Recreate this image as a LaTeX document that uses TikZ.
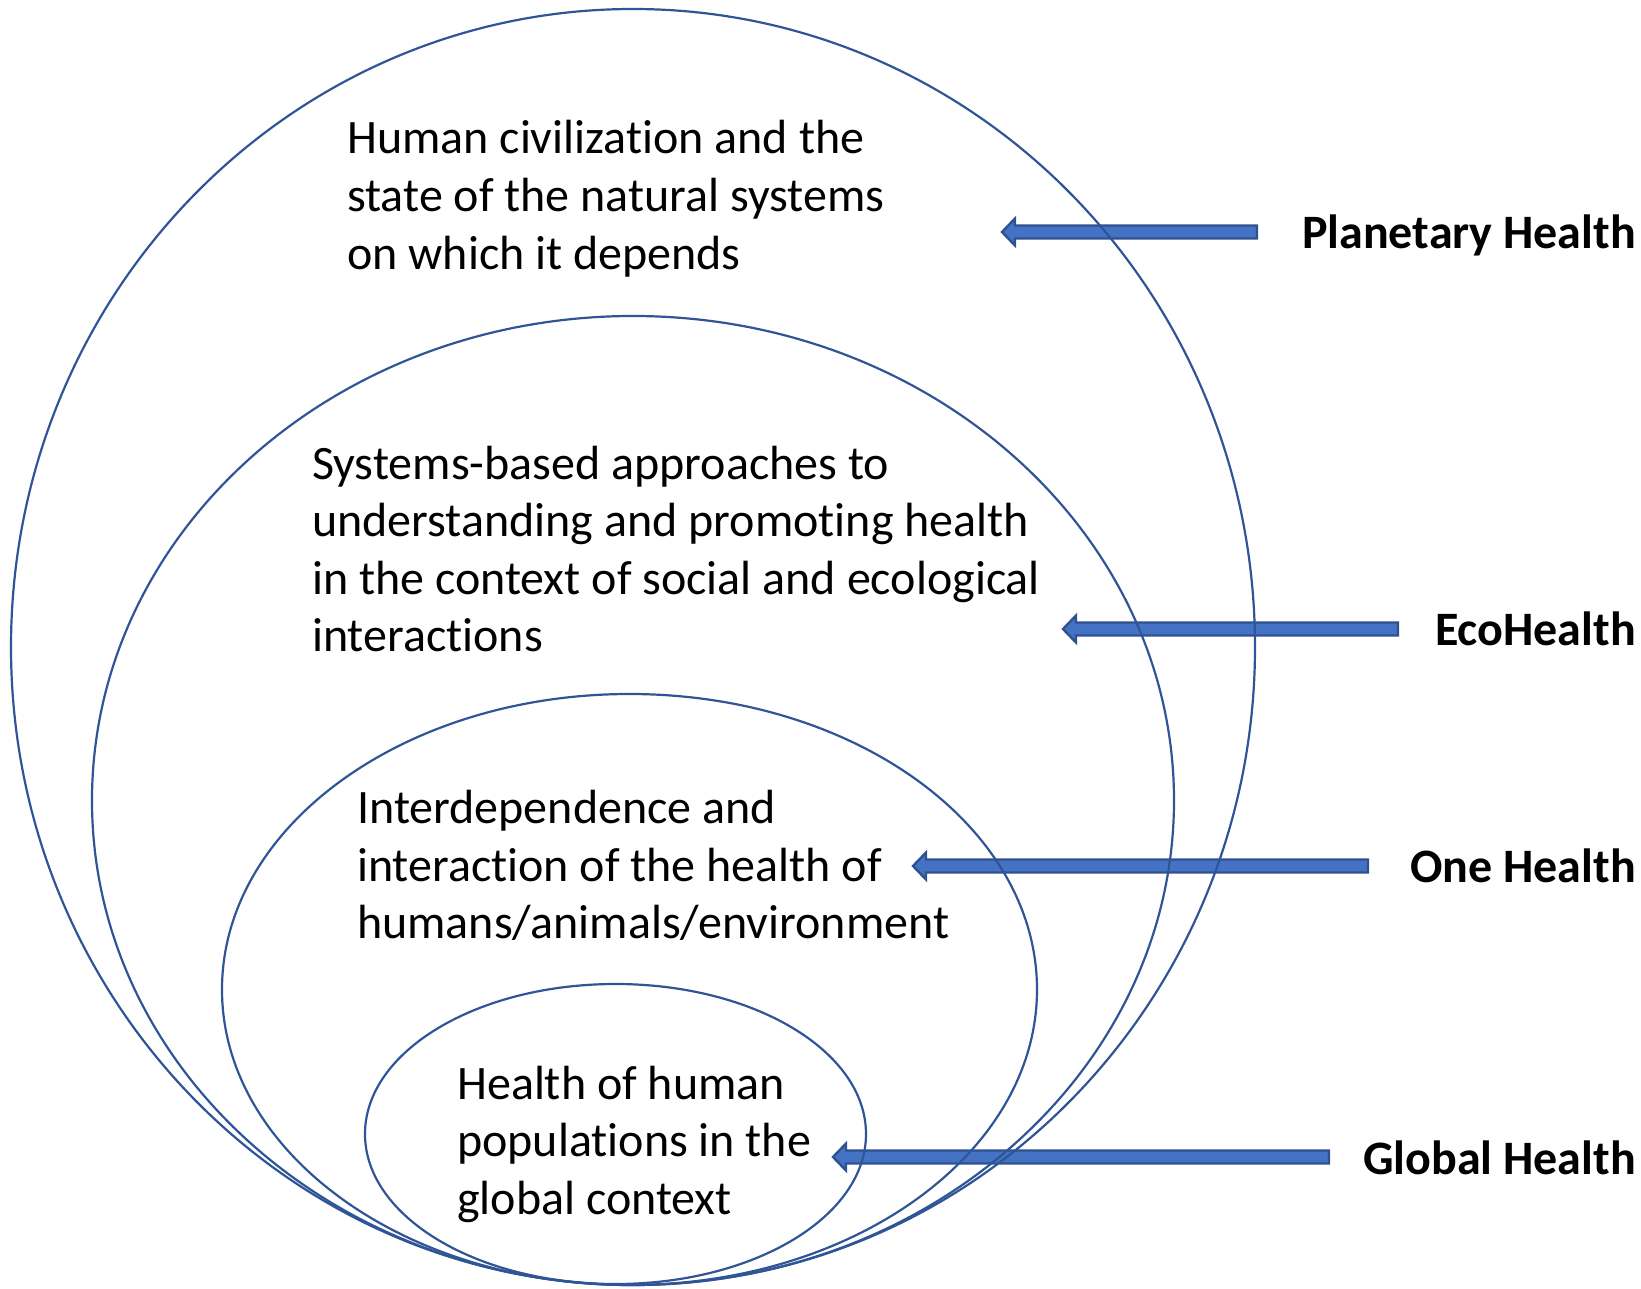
\documentclass[tikz,border=0pt]{standalone}
\usepackage{fontspec}
\setmainfont{Carlito}[Ligatures=NoCommon,RawFeature={-liga}]
\usetikzlibrary{shapes.geometric,calc}

\definecolor{ringblue}{HTML}{2F5597}
\definecolor{arrowfill}{HTML}{4472C4}
\definecolor{arrowedge}{HTML}{2F528F}

% block arrow from a tail coordinate to a tip coordinate (pointing left)
\newcommand\blockarrow[2]{%
  \draw[barrow] let \p1=(#1), \p2=(#2) in
    (\p1) -- (\x1+13pt,\y1+13.5pt) -- (\x1+13pt,\y1+6.5pt) -- (\x2,\y1+6.5pt)
    -- (\x2,\y1-6.5pt) -- (\x1+13pt,\y1-6.5pt) -- (\x1+13pt,\y1-13.5pt) -- cycle;}

\newcommand\bodytext[1]{{\renewcommand\arraystretch{1}\begin{tabular}[t]{@{}l@{}}#1\end{tabular}}}

\begin{document}
\begin{tikzpicture}[x=1pt,y=-1pt,
  ring/.style={ellipse,draw=ringblue,line width=2.2pt,inner sep=0pt},
  barrow/.style={fill=arrowfill,draw=arrowedge,line width=2.4pt,line join=miter},
  body/.style={anchor=base west,inner sep=0pt,font=\fontsize{48}{57.6}\selectfont},
  tag/.style={anchor=base east,inner sep=0pt,font=\fontsize{48}{57.6}\selectfont\bfseries}]
\useasboundingbox (0,0) rectangle (1641,1289);

% arrow ends
\coordinate (tipP) at (1002,232);  \coordinate (tailP) at (1257,232);
\coordinate (tipE) at (1063,629);  \coordinate (tailE) at (1398,629);
\coordinate (tipO) at (913,866);   \coordinate (tailO) at (1368,866);
\coordinate (tipG) at (833,1157);  \coordinate (tailG) at (1329,1157);

\blockarrow{tipP}{tailP}
\blockarrow{tipE}{tailE}
\blockarrow{tipO}{tailO}
\blockarrow{tipG}{tailG}

% nested ellipses
\node[ring,minimum width=1244pt,minimum height=1276pt] (planetary) at (633,647) {};
\node[ring,minimum width=1082pt,minimum height=969pt] (eco) at (633,800.5) {};
\node[ring,minimum width=815pt,minimum height=591pt] (one) at (629.5,989.5) {};
\node[ring,minimum width=501pt,minimum height=300pt] (global) at (615.5,1134) {};

% descriptions
\node[body] (tplanetary) at (347,154) {\bodytext{Human civilization and the\\state of the natural systems\\on which it depends}};
\node[body] (teco) at (312,479) {\bodytext{Systems-based approaches to\\understanding and promoting health\\in the context of social and ecological\\interactions}};
\node[body] (tone) at (357,823.5) {\bodytext{Interdependence and\\interaction of the health of\\humans/animals/environment}};
\node[body] (tglobal) at (457,1099) {\bodytext{Health of human\\populations in the\\global context}};

% labels
\node[tag] (lP) at (1636,249) {Planetary Health};
\node[tag] (lE) at (1636,645) {EcoHealth};
\node[tag] (lO) at (1636,882) {One Health};
\node[tag] (lG) at (1636,1174) {Global Health};
\end{tikzpicture}
\end{document}
